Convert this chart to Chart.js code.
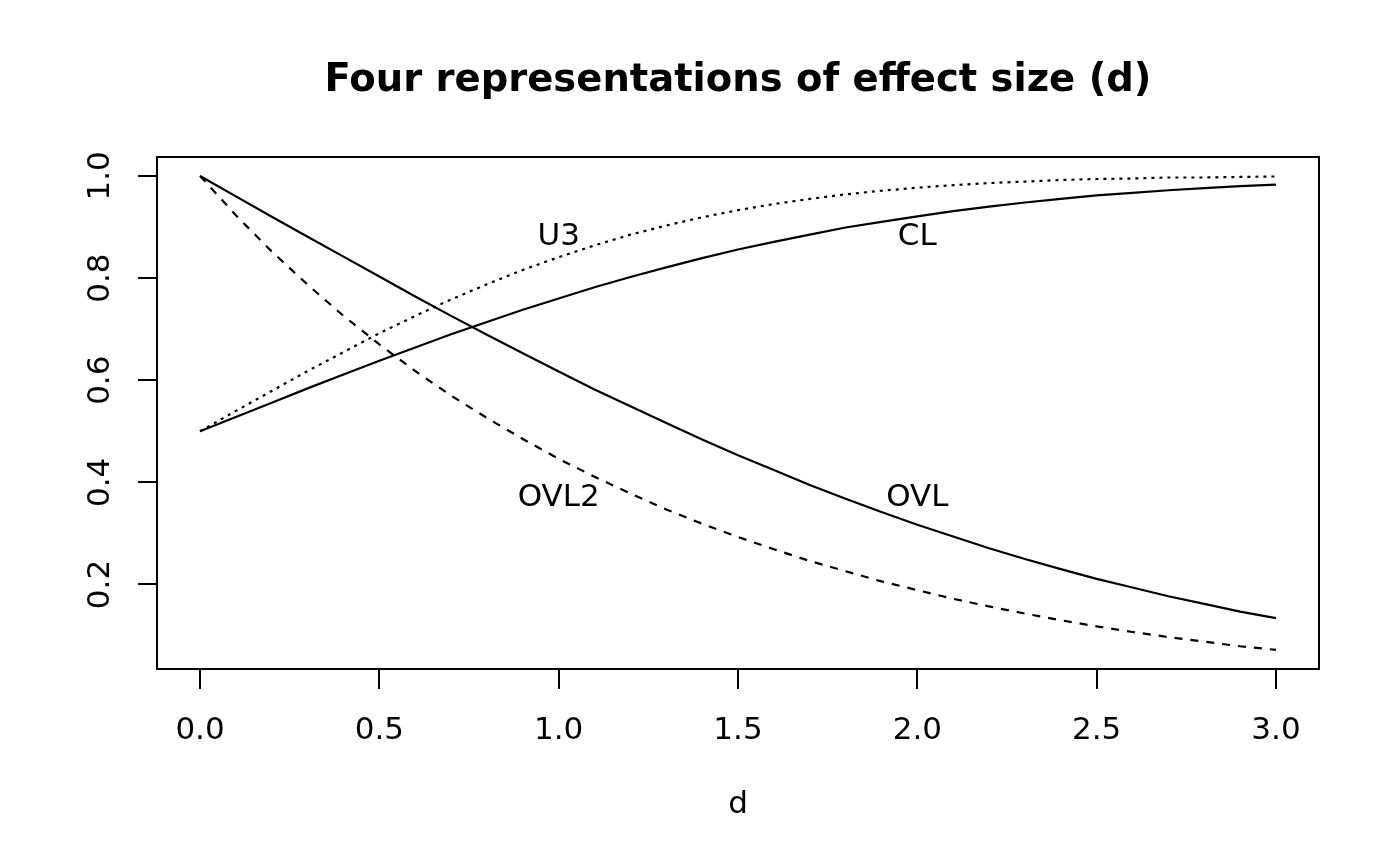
<!DOCTYPE html>
<html>
<head>
<meta charset="utf-8">
<script src="https://cdn.jsdelivr.net/npm/chart.js@4"></script>
<style>
  html, body { margin: 0; padding: 0; background: #fff; }
  #wrap { width: 1400px; height: 866px; }
</style>
</head>
<body>
<div id="wrap"><canvas id="chart"></canvas></div>
<script>
// effect size d along the x axis
const dVals = [0.0, 0.1, 0.2, 0.3, 0.4, 0.5, 0.6, 0.7, 0.8, 0.9, 1.0,
  1.1, 1.2, 1.3, 1.4, 1.5, 1.6, 1.7, 1.8, 1.9, 2.0,
  2.1, 2.2, 2.3, 2.4, 2.5, 2.6, 2.7, 2.8, 2.9, 3.0];

// the four curves
const u3 = [0.500, 0.540, 0.579, 0.618, 0.655, 0.692, 0.726, 0.758, 0.788, 0.816, 0.841,
  0.864, 0.885, 0.903, 0.919, 0.933, 0.945, 0.955, 0.964, 0.971, 0.977,
  0.982, 0.986, 0.989, 0.992, 0.994, 0.995, 0.997, 0.997, 0.998, 0.999];
const cl = [0.500, 0.528, 0.556, 0.584, 0.611, 0.638, 0.664, 0.690, 0.714, 0.738, 0.760,
  0.782, 0.802, 0.821, 0.839, 0.856, 0.871, 0.885, 0.899, 0.910, 0.921,
  0.931, 0.940, 0.948, 0.955, 0.962, 0.967, 0.972, 0.976, 0.980, 0.983];
const ovl = [1.000, 0.960, 0.920, 0.881, 0.842, 0.803, 0.764, 0.726, 0.689, 0.653, 0.617,
  0.582, 0.549, 0.516, 0.484, 0.453, 0.424, 0.395, 0.368, 0.342, 0.317,
  0.294, 0.271, 0.250, 0.230, 0.211, 0.194, 0.177, 0.162, 0.147, 0.134];
const ovl2 = [1.000, 0.923, 0.852, 0.787, 0.726, 0.670, 0.618, 0.570, 0.526, 0.485, 0.446,
  0.411, 0.378, 0.347, 0.319, 0.293, 0.269, 0.246, 0.226, 0.206, 0.189,
  0.172, 0.157, 0.143, 0.130, 0.118, 0.107, 0.097, 0.088, 0.079, 0.072];

const xTicks = [0.0, 0.5, 1.0, 1.5, 2.0, 2.5, 3.0];
const yTicks = [0.2, 0.4, 0.6, 0.8, 1.0];

// curve names written inside the plot
const noteText = ['U3', 'CL', 'OVL2', 'OVL'];
const noteX = [1, 2, 1, 2];
const noteY = [0.88, 0.88, 0.37, 0.37];

const FONT = '"DejaVu Sans", "Liberation Sans", sans-serif';

const toPoints = (ys) => dVals.map((d, i) => ({ x: d, y: ys[i] }));

const line = (label, ys, dash) => ({
  label: label,
  data: toPoints(ys),
  borderColor: '#000',
  borderWidth: 2.2,
  borderDash: dash,
  pointRadius: 0,
  tension: 0,
  fill: false,
});

// box round the plot region plus the text labels, like base R
const boxAndNotes = {
  id: 'boxAndNotes',
  afterDraw(chart) {
    const { ctx, chartArea: a, scales } = chart;
    ctx.save();
    ctx.strokeStyle = '#000';
    ctx.lineWidth = 2;
    ctx.strokeRect(a.left, a.top, a.right - a.left, a.bottom - a.top);
    ctx.fillStyle = '#000';
    ctx.font = '31px ' + FONT;
    ctx.textAlign = 'center';
    ctx.textBaseline = 'middle';
    noteText.forEach((t, i) => {
      ctx.fillText(t, scales.x.getPixelForValue(noteX[i]), scales.y.getPixelForValue(noteY[i]));
    });
    ctx.restore();
  },
};

new Chart(document.getElementById('chart'), {
  type: 'line',
  data: {
    datasets: [
      line('U3', u3, [3, 5]),
      line('CL', cl, []),
      line('OVL', ovl, []),
      line('OVL2', ovl2, [8, 8]),
    ],
  },
  options: {
    responsive: true,
    maintainAspectRatio: false,
    animation: false,
    devicePixelRatio: 1,
    layout: { padding: { left: 0, right: 81, top: 0, bottom: 0 } },
    plugins: {
      legend: { display: false },
      tooltip: { enabled: false },
      title: {
        display: true,
        text: 'Four representations of effect size (d)',
        fullSize: false,
        color: '#000',
        font: { family: FONT, size: 38.5, weight: 'bold', lineHeight: 1.2 },
        padding: { top: 58, bottom: 52.8 },
      },
    },
    scales: {
      x: {
        type: 'linear',
        min: -0.12,
        max: 3.12,
        afterBuildTicks: (s) => { s.ticks = xTicks.map((v) => ({ value: v })); },
        afterFit: (s) => { s.height = 197; },
        grid: { drawOnChartArea: false, drawTicks: true, tickLength: 20, color: '#000', lineWidth: 2 },
        border: { display: true, color: '#000', width: 2 },
        ticks: {
          color: '#000',
          padding: 23,
          font: { family: FONT, size: 31 },
          callback: (v) => Number(v).toFixed(1),
        },
        title: {
          display: true,
          text: 'd',
          color: '#000',
          font: { family: FONT, size: 31, lineHeight: 1.2 },
          padding: { top: 0, bottom: 42 },
        },
      },
      y: {
        type: 'linear',
        min: 0.0345,
        max: 1.0371,
        afterBuildTicks: (s) => { s.ticks = yTicks.map((v) => ({ value: v })); },
        afterFit: (s) => { s.width = 157; },
        grid: { drawOnChartArea: false, drawTicks: true, tickLength: 19, color: '#000', lineWidth: 2 },
        border: { display: true, color: '#000', width: 2 },
        ticks: {
          color: '#000',
          padding: 12,
          minRotation: 90,
          maxRotation: 90,
          crossAlign: 'center',
          font: { family: FONT, size: 31 },
          callback: (v) => Number(v).toFixed(1),
        },
      },
    },
  },
  plugins: [boxAndNotes],
});
</script>
</body>
</html>
